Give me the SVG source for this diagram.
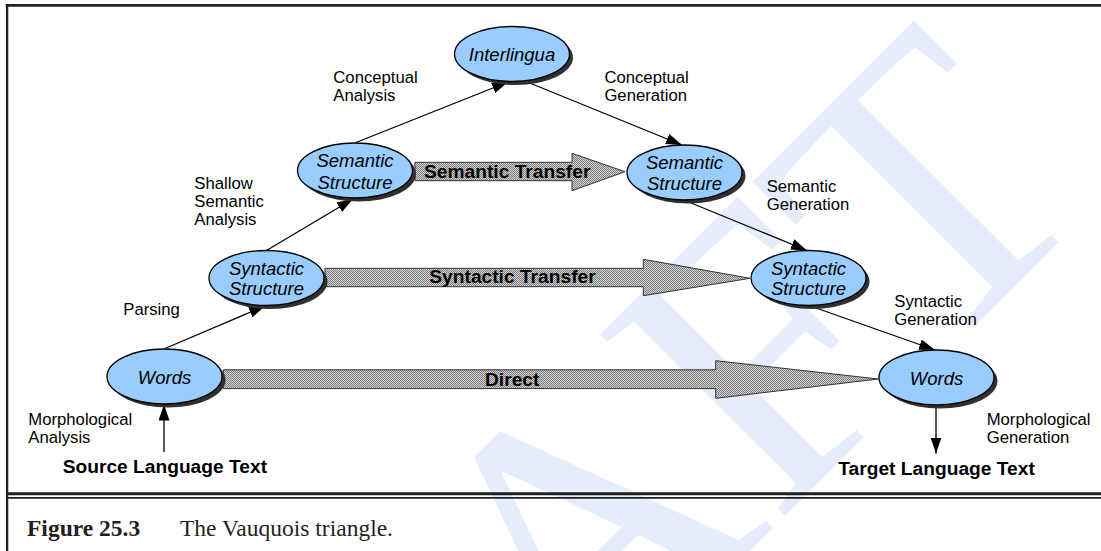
<svg xmlns="http://www.w3.org/2000/svg" width="1101" height="551" viewBox="0 0 1101 551">
<style>
.wm{font-family:"Liberation Serif","Times New Roman",serif;font-size:396px;fill:#e5ecfb}
.node{fill:#99ccff;stroke:#000;stroke-width:1.3}
.shadow{fill:#303030}
.nt{font-family:"Liberation Sans",Arial,sans-serif;font-size:18.5px;font-style:italic;fill:#000;text-anchor:middle}
.lb{font-family:"Liberation Sans",Arial,sans-serif;font-size:16.7px;fill:#000}
.bd{font-family:"Liberation Sans",Arial,sans-serif;font-size:19.2px;font-weight:bold;fill:#000}
.conn{stroke:#000;stroke-width:1.3;fill:none;marker-end:url(#ah)}
.blk{fill:url(#dots);stroke:#333;stroke-width:1}
.frame{stroke:#231f20;fill:none}
.cap{font-family:"Liberation Serif","Times New Roman",serif;font-size:23.5px;fill:#231f20}
</style>
<defs>
<marker id="ah" markerWidth="16" markerHeight="11" refX="16" refY="5.5" orient="auto" markerUnits="userSpaceOnUse">
<path d="M0,0 L16,5.5 L0,11 z" fill="#000"/>
</marker>
<pattern id="dots" width="2" height="2" patternUnits="userSpaceOnUse">
<rect width="2" height="2" fill="#d4d4d4"/>
<rect width="1" height="1" fill="#7c7c7c"/>
<rect x="1" y="1" width="1" height="1" fill="#7c7c7c"/>
</pattern>
</defs>
<rect width="1101" height="551" fill="#fff"/>
<text class="wm" transform="translate(184,1117) rotate(-45)">DRAFT</text>

<g id="frame">
<line class="frame" x1="5.8" y1="5.4" x2="1101" y2="5.4" stroke-width="2.8"/>
<line class="frame" x1="7.1" y1="4" x2="7.1" y2="551" stroke-width="2.3"/>
<line class="frame" x1="6" y1="493.8" x2="1101" y2="493.8" stroke-width="3"/>
<line class="frame" x1="6" y1="497.9" x2="1101" y2="497.9" stroke-width="1.7"/>
</g>

<g id="connectors">
<line class="conn" x1="165" y1="348.5" x2="265" y2="306"/>
<line class="conn" x1="266.5" y1="250.5" x2="353" y2="199"/>
<line class="conn" x1="356" y1="142.5" x2="508" y2="82"/>
<line class="conn" x1="526" y1="81.5" x2="682" y2="145"/>
<line class="conn" x1="685" y1="200.5" x2="807" y2="250.5"/>
<line class="conn" x1="809" y1="305.5" x2="935" y2="350"/>
<line class="conn" x1="164" y1="452" x2="164" y2="404.5"/>
<line class="conn" x1="936" y1="405.5" x2="936" y2="453.5"/>
</g>

<g id="transfers">
<g id="semantic-transfer">
<path class="blk" d="M415,162.3 H572 V153.3 L625,171.7 L572,190.7 V180.7 H415 Z"/>
<text class="bd" x="424" y="178.3">Semantic Transfer</text>
</g>
<g id="syntactic-transfer">
<path class="blk" d="M325,268.3 H643.3 V259.3 L750,278.3 L643.3,295.7 V286.7 H325 Z"/>
<text class="bd" x="429.3" y="283.3">Syntactic Transfer</text>
</g>
<g id="direct">
<path class="blk" d="M223.3,369.8 H715.7 V360.7 L878.3,379 L715.7,398.3 V388.6 H223.3 Z"/>
<text class="bd" x="485" y="386">Direct</text>
</g>
</g>

<g id="interlingua">
<ellipse class="shadow" cx="515.5" cy="57.5" rx="57.5" ry="27.5"/>
<ellipse class="node" cx="512" cy="54" rx="57.5" ry="27.5"/>
<text class="nt" x="512" y="61">Interlingua</text>
</g>
<g id="sem-left">
<ellipse class="shadow" cx="358.5" cy="174" rx="57.5" ry="27.5"/>
<ellipse class="node" cx="355" cy="170.5" rx="57.5" ry="27.5"/>
<text class="nt" x="355" y="167.3">Semantic</text>
<text class="nt" x="355" y="188.8">Structure</text>
</g>
<g id="sem-right">
<ellipse class="shadow" cx="688" cy="176" rx="57.5" ry="27.5"/>
<ellipse class="node" cx="684.5" cy="172.5" rx="57.5" ry="27.5"/>
<text class="nt" x="684.5" y="169.3">Semantic</text>
<text class="nt" x="684.5" y="189.5">Structure</text>
</g>
<g id="syn-left">
<ellipse class="shadow" cx="270" cy="281.5" rx="57.5" ry="27.5"/>
<ellipse class="node" cx="266.5" cy="278" rx="57.5" ry="27.5"/>
<text class="nt" x="266.5" y="275">Syntactic</text>
<text class="nt" x="266.5" y="295">Structure</text>
</g>
<g id="syn-right">
<ellipse class="shadow" cx="812" cy="281.5" rx="57.5" ry="27.5"/>
<ellipse class="node" cx="808.5" cy="278" rx="57.5" ry="27.5"/>
<text class="nt" x="808.5" y="275">Syntactic</text>
<text class="nt" x="808.5" y="295">Structure</text>
</g>
<g id="words-left">
<ellipse class="shadow" cx="168" cy="380" rx="57.5" ry="27.5"/>
<ellipse class="node" cx="164.5" cy="376.5" rx="57.5" ry="27.5"/>
<text class="nt" x="164.5" y="383.5">Words</text>
</g>
<g id="words-right">
<ellipse class="shadow" cx="940" cy="381" rx="57.5" ry="27.5"/>
<ellipse class="node" cx="936.5" cy="377.5" rx="57.5" ry="27.5"/>
<text class="nt" x="936.5" y="384.5">Words</text>
</g>

<g id="labels">
<text class="lb" x="333.3" y="83.3">Conceptual</text>
<text class="lb" x="333.3" y="101.3">Analysis</text>
<text class="lb" x="604.4" y="82.5">Conceptual</text>
<text class="lb" x="604.4" y="100.5">Generation</text>
<text class="lb" x="194.3" y="189.3">Shallow</text>
<text class="lb" x="194.3" y="207.3">Semantic</text>
<text class="lb" x="194.3" y="225.3">Analysis</text>
<text class="lb" x="766.7" y="191.7">Semantic</text>
<text class="lb" x="766.7" y="209.5">Generation</text>
<text class="lb" x="123.3" y="315">Parsing</text>
<text class="lb" x="894.3" y="306.7">Syntactic</text>
<text class="lb" x="894.3" y="324.5">Generation</text>
<text class="lb" x="28.3" y="425.3">Morphological</text>
<text class="lb" x="28.3" y="443">Analysis</text>
<text class="lb" x="986.7" y="425.3">Morphological</text>
<text class="lb" x="986.7" y="443">Generation</text>
<text class="bd" x="62.7" y="472.7">Source Language Text</text>
<text class="bd" x="838.3" y="475">Target Language Text</text>
</g>

<g id="caption">
<text class="cap" x="27" y="536" font-weight="bold">Figure 25.3</text>
<text class="cap" x="180" y="536">The Vauquois triangle.</text>
</g>
</svg>
